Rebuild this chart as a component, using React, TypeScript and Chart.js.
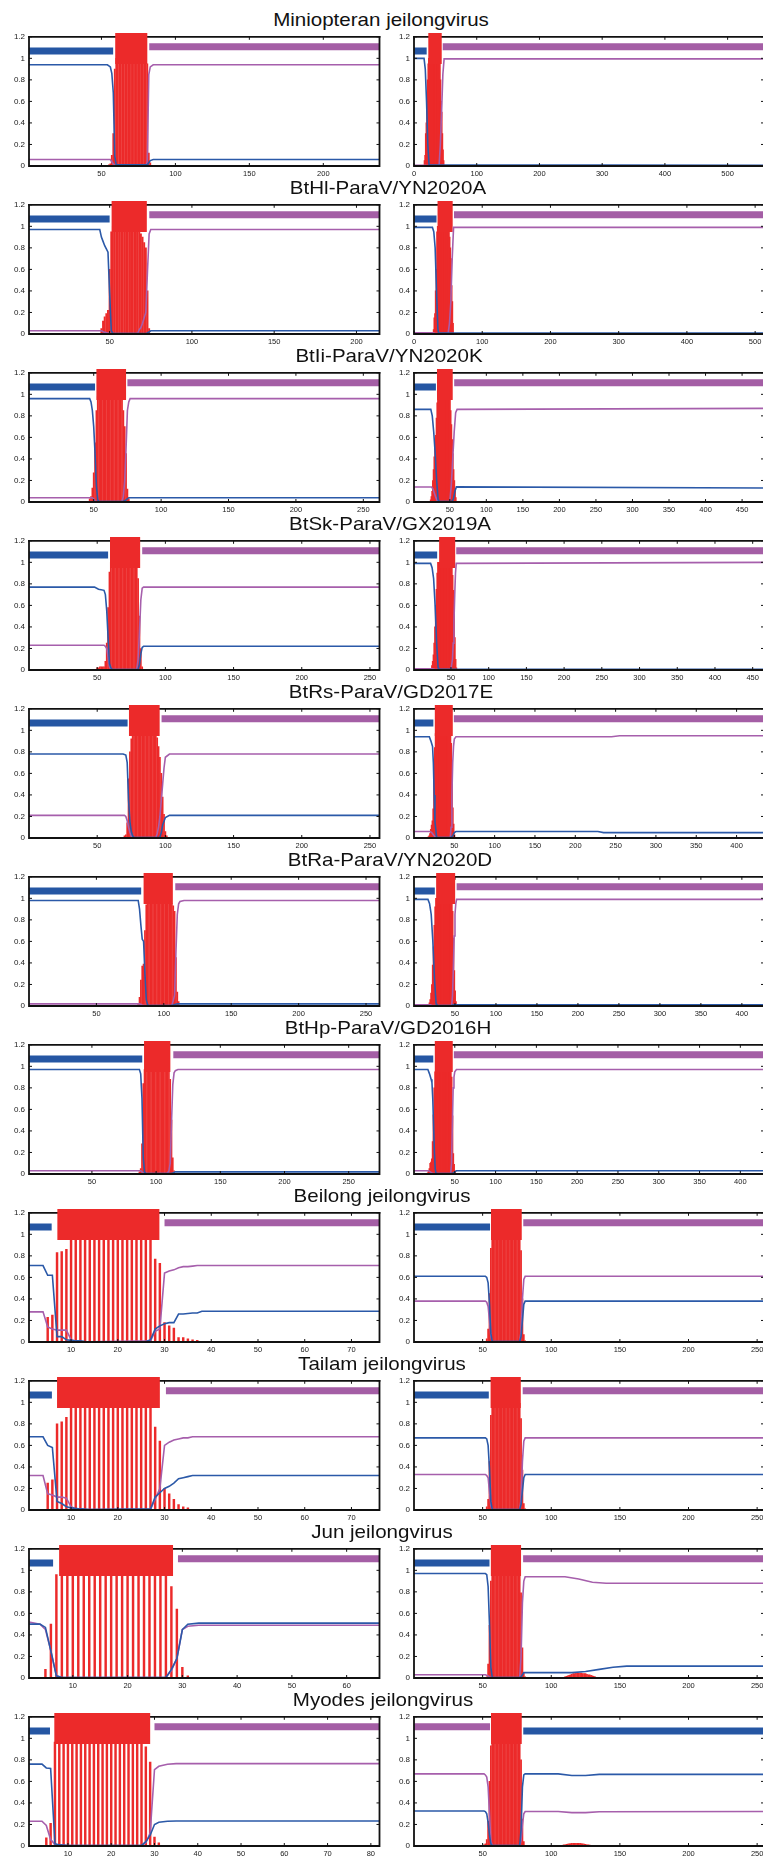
import React, { useEffect, useRef } from "react";
import { Chart, registerables } from "chart.js";

Chart.register(...registerables);

// ---------------- shared values ----------------
const yTicks = [0, 0.2, 0.4, 0.6, 0.8, 1, 1.2];
const blueTrackY = 1.068;
const purpleTrackY = 1.108;
const redTrackY = 1.0915;

const titles = [
  "Miniopteran jeilongvirus",
  "BtHl-ParaV/YN2020A",
  "BtIi-ParaV/YN2020K",
  "BtSk-ParaV/GX2019A",
  "BtRs-ParaV/GD2017E",
  "BtRa-ParaV/YN2020D",
  "BtHp-ParaV/GD2016H",
  "Beilong jeilongvirus",
  "Tailam jeilongvirus",
  "Jun jeilongvirus",
  "Myodes jeilongvirus",
];
const titleCX = [381, 388, 389, 389.5, 391, 389.5, 388, 381.7, 382, 382, 382.5];

// tracks = [blueStart, blueEnd, redStart, redEnd, purpleStart, purpleEnd]

// ---------- Row 0: Miniopteran jeilongvirus ----------
const r0L_range = [1, 238];
const r0L_ticks = [50, 100, 150, 200];
const r0L_blueX = [1, 54, 56, 57, 58, 59, 60, 81, 82, 83, 85, 238];
const r0L_blueY = [0.94, 0.94, 0.92, 0.86, 0.68, 0.09, 0.01, 0.01, 0.03, 0.05, 0.06, 0.06];
const r0L_purpleX = [1, 56, 57, 58, 59, 80, 81, 82, 83, 85, 238];
const r0L_purpleY = [0.06, 0.06, 0.04, 0.02, 0.005, 0.005, 0.04, 0.85, 0.92, 0.94, 0.94];
const r0L_redX = [55, 56, 57, 58, 59, 60, 61, 62, 63, 64, 65, 66, 67, 68, 69, 70, 71, 72, 73, 74, 75, 76, 77, 78, 79, 80, 81, 82, 83];
const r0L_redY = [0.01, 0.02, 0.1, 0.3, 0.9, 1, 1, 1, 1, 1, 1, 1, 1, 1, 1, 1, 1, 1, 1, 1, 1, 1, 1, 1, 1, 1, 0.95, 0.12, 0.03];
const r0L_tracks = [1, 57.9, 59.3, 81, 82.3, 238];

const r0R_range = [0, 558];
const r0R_ticks = [0, 100, 200, 300, 400, 500];
const r0R_blueX = [0, 16, 18, 20, 22, 24, 558];
const r0R_blueY = [1, 1, 0.9, 0.6, 0.2, 0.01, 0.006];
const r0R_purpleX = [0, 18, 20, 40, 42, 44, 46, 48, 558];
const r0R_purpleY = [0.006, 0.006, 0.005, 0.005, 0.2, 0.5, 0.85, 0.995, 0.995];
const r0R_redX = [17, 18, 19, 20, 21, 22, 23, 24, 25, 26, 27, 28, 29, 30, 31, 32, 33, 34, 35, 36, 37, 38, 39, 40, 41, 42, 43, 44, 45, 46, 47];
const r0R_redY = [0.05, 0.1, 0.3, 0.4, 0.6, 0.8, 0.95, 1, 1, 1, 1, 1, 1, 1, 1, 1, 1, 1, 1, 1, 1, 1, 1, 1, 1, 0.8, 0.6, 0.5, 0.3, 0.15, 0.05];
const r0R_tracks = [0, 20.2, 22.8, 44.2, 45.8, 558];

// ---------- Row 1: BtHl-ParaV/YN2020A ----------
const r1L_range = [1, 214];
const r1L_ticks = [50, 100, 150, 200];
const r1L_blueX = [1, 44, 45, 46, 47, 48, 49, 50, 51, 52, 72, 73, 74, 75, 214];
const r1L_blueY = [0.97, 0.97, 0.9, 0.86, 0.82, 0.79, 0.76, 0.38, 0.03, 0.005, 0.005, 0.01, 0.02, 0.03, 0.03];
const r1L_purpleX = [1, 45, 47, 49, 50, 67, 68, 69, 70, 71, 72, 73, 74, 75, 214];
const r1L_purpleY = [0.03, 0.03, 0.015, 0.01, 0.005, 0.005, 0.04, 0.06, 0.1, 0.15, 0.2, 0.58, 0.93, 0.97, 0.97];
const r1L_redX = [45, 46, 47, 48, 49, 50, 51, 52, 53, 54, 55, 56, 57, 58, 59, 60, 61, 62, 63, 64, 65, 66, 67, 68, 69, 70, 71, 72, 73, 74];
const r1L_redY = [0.05, 0.12, 0.16, 0.19, 0.22, 0.6, 0.95, 1, 1, 1, 1, 1, 1, 1, 1, 1, 1, 1, 1, 1, 1, 1, 1, 0.95, 0.93, 0.9, 0.85, 0.8, 0.4, 0.05];
const r1L_tracks = [1, 50, 51.2, 72.6, 74.1, 214];

const r1R_range = [0, 513];
const r1R_ticks = [0, 100, 200, 300, 400, 500];
const r1R_blueX = [0, 27, 29, 31, 33, 35, 36, 513];
const r1R_blueY = [0.99, 0.99, 0.95, 0.8, 0.4, 0.05, 0.008, 0.008];
const r1R_purpleX = [0, 28, 31, 50, 52, 54, 56, 58, 513];
const r1R_purpleY = [0.012, 0.012, 0.005, 0.005, 0.1, 0.3, 0.7, 0.99, 0.99];
const r1R_redX = [28, 29, 30, 31, 32, 33, 34, 35, 36, 37, 38, 39, 40, 41, 42, 43, 44, 45, 46, 47, 48, 49, 50, 51, 52, 53, 54, 55, 56, 57];
const r1R_redY = [0.01, 0.04, 0.15, 0.19, 0.4, 0.6, 0.95, 1, 1, 1, 1, 1, 1, 1, 1, 1, 1, 1, 1, 1, 1, 1, 1, 0.97, 0.9, 0.8, 0.7, 0.45, 0.3, 0.1];
const r1R_tracks = [0, 33, 34.5, 56.7, 58.6, 513];

// ---------- Row 2: BtIi-ParaV/YN2020K ----------
const r2L_range = [2, 262];
const r2L_ticks = [50, 100, 150, 200, 250];
const r2L_blueX = [2, 47, 48, 49, 50, 51, 52, 53, 54, 72, 74, 76, 262];
const r2L_blueY = [0.96, 0.96, 0.93, 0.85, 0.7, 0.45, 0.15, 0.02, 0.005, 0.005, 0.02, 0.04, 0.04];
const r2L_purpleX = [2, 49, 50, 51, 52, 71, 72, 73, 74, 75, 76, 77, 262];
const r2L_purpleY = [0.04, 0.04, 0.03, 0.01, 0.005, 0.005, 0.05, 0.2, 0.5, 0.85, 0.93, 0.96, 0.96];
const r2L_redX = [47, 48, 49, 50, 51, 52, 53, 54, 55, 56, 57, 58, 59, 60, 61, 62, 63, 64, 65, 66, 67, 68, 69, 70, 71, 72, 73, 74, 75, 76];
const r2L_redY = [0.03, 0.05, 0.13, 0.27, 0.55, 0.85, 0.98, 1, 1, 1, 1, 1, 1, 1, 1, 1, 1, 1, 1, 1, 1, 1, 1, 1, 0.95, 0.85, 0.7, 0.45, 0.12, 0.03];
const r2L_tracks = [2, 51, 52, 74, 75, 262];

const r2R_range = [1, 480];
const r2R_ticks = [50, 100, 150, 200, 250, 300, 350, 400, 450];
const r2R_blueX = [1, 24, 26, 28, 30, 32, 34, 35, 53, 55, 57, 59, 480];
const r2R_blueY = [0.86, 0.86, 0.8, 0.65, 0.45, 0.2, 0.02, 0.005, 0.005, 0.03, 0.1, 0.14, 0.13];
const r2R_purpleX = [1, 25, 27, 29, 31, 33, 34, 50, 52, 54, 56, 58, 60, 480];
const r2R_purpleY = [0.14, 0.14, 0.12, 0.08, 0.04, 0.01, 0.005, 0.005, 0.15, 0.4, 0.65, 0.83, 0.86, 0.87];
const r2R_redX = [24, 25, 26, 27, 28, 29, 30, 31, 32, 33, 34, 35, 36, 37, 38, 39, 40, 41, 42, 43, 44, 45, 46, 47, 48, 49, 50, 51, 52, 53, 54, 55, 56, 57, 58];
const r2R_redY = [0.02, 0.05, 0.1, 0.2, 0.3, 0.42, 0.5, 0.62, 0.78, 0.92, 1, 1, 1, 1, 1, 1, 1, 1, 1, 1, 1, 1, 1, 1, 1, 1, 0.95, 0.85, 0.72, 0.58, 0.45, 0.3, 0.2, 0.1, 0.04];
const r2R_tracks = [1, 31, 32.5, 54, 56, 480];

// ---------- Row 3: BtSk-ParaV/GX2019A ----------
const r3L_range = [0, 257];
const r3L_ticks = [50, 100, 150, 200, 250];
const r3L_blueX = [0, 48, 51, 55, 56, 57, 58, 59, 60, 61, 80, 81, 82, 83, 84, 257];
const r3L_blueY = [0.77, 0.77, 0.75, 0.74, 0.7, 0.55, 0.3, 0.06, 0.02, 0.005, 0.005, 0.05, 0.15, 0.21, 0.22, 0.22];
const r3L_purpleX = [0, 55, 56, 57, 58, 59, 60, 79, 80, 81, 82, 83, 84, 257];
const r3L_purpleY = [0.23, 0.23, 0.22, 0.2, 0.12, 0.03, 0.005, 0.005, 0.1, 0.35, 0.65, 0.76, 0.77, 0.77];
const r3L_redX = [50, 51, 52, 53, 54, 55, 56, 57, 58, 59, 60, 61, 62, 63, 64, 65, 66, 67, 68, 69, 70, 71, 72, 73, 74, 75, 76, 77, 78, 79, 80, 81, 82, 83];
const r3L_redY = [0.02, 0.02, 0.03, 0.03, 0.03, 0.03, 0.08, 0.25, 0.58, 0.91, 1, 1, 1, 1, 1, 1, 1, 1, 1, 1, 1, 1, 1, 1, 1, 1, 1, 1, 1, 0.99, 0.85, 0.5, 0.2, 0.03];
const r3L_tracks = [0, 58, 59.4, 81.5, 83, 257];

const r3R_range = [1, 465];
const r3R_ticks = [50, 100, 150, 200, 250, 300, 350, 400, 450];
const r3R_blueX = [1, 23, 25, 27, 29, 31, 33, 34, 465];
const r3R_blueY = [0.99, 0.99, 0.95, 0.85, 0.6, 0.25, 0.02, 0.006, 0.006];
const r3R_purpleX = [1, 26, 29, 50, 52, 53, 54, 55, 56, 57, 465];
const r3R_purpleY = [0.012, 0.012, 0.005, 0.005, 0.1, 0.25, 0.45, 0.7, 0.9, 0.99, 1];
const r3R_redX = [25, 26, 27, 28, 29, 30, 31, 32, 33, 34, 35, 36, 37, 38, 39, 40, 41, 42, 43, 44, 45, 46, 47, 48, 49, 50, 51, 52, 53, 54, 55, 56, 57];
const r3R_redY = [0.04, 0.08, 0.14, 0.25, 0.4, 0.6, 0.75, 0.9, 1, 1, 1, 1, 1, 1, 1, 1, 1, 1, 1, 1, 1, 1, 1, 1, 1, 1, 0.95, 0.88, 0.74, 0.54, 0.3, 0.1, 0.02];
const r3R_tracks = [1, 31.7, 34.3, 55.6, 57, 465];

// ---------- Row 4: BtRs-ParaV/GD2017E ----------
const r4L_range = [0, 257];
const r4L_ticks = [50, 100, 150, 200, 250];
const r4L_blueX = [0, 69, 71, 72, 73, 74, 75, 76, 77, 78, 95, 96, 97, 98, 100, 103, 257];
const r4L_blueY = [0.78, 0.78, 0.77, 0.7, 0.35, 0.15, 0.06, 0.02, 0.005, 0.005, 0.005, 0.01, 0.05, 0.12, 0.19, 0.21, 0.21];
const r4L_purpleX = [0, 70, 71, 72, 73, 74, 75, 76, 93, 94, 95, 96, 97, 98, 99, 100, 103, 257];
const r4L_purpleY = [0.21, 0.21, 0.2, 0.16, 0.1, 0.05, 0.02, 0.005, 0.005, 0.04, 0.1, 0.2, 0.35, 0.5, 0.65, 0.75, 0.78, 0.78];
const r4L_redX = [70, 71, 72, 73, 74, 75, 76, 77, 78, 79, 80, 81, 82, 83, 84, 85, 86, 87, 88, 89, 90, 91, 92, 93, 94, 95, 96, 97, 98, 99, 100, 101];
const r4L_redY = [0.02, 0.03, 0.14, 0.55, 0.8, 0.92, 1, 1, 1, 1, 1, 1, 1, 1, 1, 1, 1, 1, 1, 1, 1, 1, 1, 0.98, 0.93, 0.85, 0.75, 0.6, 0.38, 0.22, 0.06, 0.02];
const r4L_tracks = [0, 72.3, 73.3, 95.8, 97.2, 257];

const r4R_range = [0, 434];
const r4R_ticks = [50, 100, 150, 200, 250, 300, 350, 400];
const r4R_blueX = [0, 19, 21, 23, 24, 25, 26, 28, 29, 46, 48, 50, 52, 228, 235, 434];
const r4R_blueY = [0.94, 0.94, 0.9, 0.85, 0.7, 0.4, 0.15, 0.01, 0.005, 0.005, 0.02, 0.05, 0.06, 0.06, 0.05, 0.05];
const r4R_purpleX = [0, 20, 22, 24, 26, 28, 45, 46, 47, 48, 49, 50, 52, 245, 255, 434];
const r4R_purpleY = [0.06, 0.06, 0.05, 0.03, 0.01, 0.005, 0.005, 0.1, 0.4, 0.7, 0.85, 0.92, 0.94, 0.94, 0.95, 0.95];
const r4R_redX = [18, 19, 20, 21, 22, 23, 24, 25, 26, 27, 28, 29, 30, 31, 32, 33, 34, 35, 36, 37, 38, 39, 40, 41, 42, 43, 44, 45, 46, 47, 48, 49, 50];
const r4R_redY = [0.01, 0.02, 0.04, 0.08, 0.12, 0.16, 0.27, 0.58, 0.84, 0.97, 1, 1, 1, 1, 1, 1, 1, 1, 1, 1, 1, 1, 1, 1, 1, 1, 1, 0.99, 0.88, 0.58, 0.28, 0.13, 0.03];
const r4R_tracks = [0, 24, 25.8, 48.1, 49.4, 434];

// ---------- Row 5: BtRa-ParaV/YN2020D ----------
const r5L_range = [0, 260];
const r5L_ticks = [50, 100, 150, 200, 250];
const r5L_blueX = [0, 81, 82, 83, 84, 85, 86, 87, 88, 89, 105, 107, 110, 260];
const r5L_blueY = [0.98, 0.98, 0.9, 0.75, 0.62, 0.6, 0.3, 0.06, 0.01, 0.005, 0.005, 0.01, 0.02, 0.02];
const r5L_purpleX = [0, 82, 84, 86, 106, 107, 108, 109, 110, 111, 112, 115, 260];
const r5L_purpleY = [0.02, 0.02, 0.01, 0.005, 0.005, 0.05, 0.1, 0.5, 0.85, 0.95, 0.97, 0.98, 0.98];
const r5L_redX = [81, 82, 83, 84, 85, 86, 87, 88, 89, 90, 91, 92, 93, 94, 95, 96, 97, 98, 99, 100, 101, 102, 103, 104, 105, 106, 107, 108, 109, 110, 111];
const r5L_redY = [0.02, 0.08, 0.24, 0.37, 0.39, 0.7, 0.94, 1, 1, 1, 1, 1, 1, 1, 1, 1, 1, 1, 1, 1, 1, 1, 1, 1, 0.97, 0.95, 0.93, 0.88, 0.45, 0.13, 0.04];
const r5L_tracks = [0, 83.2, 85, 106.7, 108.5, 260];

const r5R_range = [0, 427];
const r5R_ticks = [50, 100, 150, 200, 250, 300, 350, 400];
const r5R_blueX = [0, 17, 19, 21, 23, 25, 27, 28, 46, 48, 427];
const r5R_blueY = [0.99, 0.99, 0.95, 0.85, 0.6, 0.25, 0.02, 0.005, 0.005, 0.01, 0.01];
const r5R_purpleX = [0, 20, 22, 46, 47, 48, 49, 50, 51, 52, 427];
const r5R_purpleY = [0.012, 0.012, 0.005, 0.005, 0.1, 0.35, 0.65, 0.85, 0.95, 0.99, 0.99];
const r5R_redX = [18, 19, 20, 21, 22, 23, 24, 25, 26, 27, 28, 29, 30, 31, 32, 33, 34, 35, 36, 37, 38, 39, 40, 41, 42, 43, 44, 45, 46, 47, 48, 49, 50, 51];
const r5R_redY = [0.01, 0.03, 0.06, 0.12, 0.2, 0.38, 0.55, 0.75, 0.92, 1, 1, 1, 1, 1, 1, 1, 1, 1, 1, 1, 1, 1, 1, 1, 1, 1, 1, 1, 0.98, 0.88, 0.63, 0.33, 0.14, 0.04];
const r5R_tracks = [0, 25.4, 27, 50.2, 52, 427];

// ---------- Row 6: BtHp-ParaV/GD2016H ----------
const r6L_range = [1, 274];
const r6L_ticks = [50, 100, 150, 200, 250];
const r6L_blueX = [1, 87, 88, 89, 90, 91, 92, 111, 113, 115, 274];
const r6L_blueY = [0.97, 0.97, 0.93, 0.7, 0.15, 0.02, 0.005, 0.005, 0.01, 0.02, 0.02];
const r6L_purpleX = [1, 88, 89, 90, 91, 108, 109, 110, 111, 112, 113, 114, 115, 117, 274];
const r6L_purpleY = [0.03, 0.03, 0.02, 0.01, 0.005, 0.005, 0.01, 0.03, 0.1, 0.48, 0.83, 0.94, 0.96, 0.97, 0.97];
const r6L_redX = [87, 88, 89, 90, 91, 92, 93, 94, 95, 96, 97, 98, 99, 100, 101, 102, 103, 104, 105, 106, 107, 108, 109, 110, 111, 112, 113, 114];
const r6L_redY = [0.02, 0.05, 0.28, 0.84, 0.97, 1, 1, 1, 1, 1, 1, 1, 1, 1, 1, 1, 1, 1, 1, 1, 1, 1, 0.98, 0.96, 0.88, 0.5, 0.15, 0.03];
const r6L_tracks = [1, 89.2, 90.6, 111.1, 113.4, 274];

const r6R_range = [0, 429];
const r6R_ticks = [50, 100, 150, 200, 250, 300, 350, 400];
const r6R_blueX = [0, 17, 19, 21, 22, 23, 24, 25, 26, 27, 46, 48, 50, 52, 429];
const r6R_blueY = [0.97, 0.97, 0.93, 0.88, 0.85, 0.7, 0.45, 0.2, 0.05, 0.005, 0.005, 0.01, 0.02, 0.03, 0.03];
const r6R_purpleX = [0, 18, 20, 22, 24, 45, 46, 47, 48, 49, 50, 52, 429];
const r6R_purpleY = [0.03, 0.03, 0.02, 0.01, 0.005, 0.005, 0.1, 0.45, 0.8, 0.9, 0.95, 0.97, 0.97];
const r6R_redX = [17, 18, 19, 20, 21, 22, 23, 24, 25, 26, 27, 28, 29, 30, 31, 32, 33, 34, 35, 36, 37, 38, 39, 40, 41, 42, 43, 44, 45, 46, 47, 48, 49, 50];
const r6R_redY = [0.01, 0.03, 0.05, 0.1, 0.11, 0.14, 0.3, 0.55, 0.8, 0.95, 1, 1, 1, 1, 1, 1, 1, 1, 1, 1, 1, 1, 1, 1, 1, 1, 1, 1, 0.99, 0.9, 0.54, 0.19, 0.09, 0.03];
const r6R_tracks = [0, 23.6, 25.5, 47.5, 48.8, 429];

// ---------- Row 7: Beilong jeilongvirus ----------
const r7L_range = [1, 76];
const r7L_ticks = [10, 20, 30, 40, 50, 60, 70];
const r7L_blueX = [1, 4, 5, 6, 7, 8, 9, 10, 11, 12, 13, 14, 26, 27, 28, 29, 30, 31, 32, 33, 34, 35, 36, 37, 38, 76];
const r7L_blueY = [0.71, 0.71, 0.62, 0.62, 0.05, 0.05, 0.02, 0.015, 0.01, 0.01, 0.005, 0.003, 0.003, 0.02, 0.12, 0.15, 0.17, 0.18, 0.18, 0.26, 0.26, 0.265, 0.27, 0.27, 0.285, 0.285];
const r7L_purpleX = [1, 4, 5, 6, 7, 8, 9, 10, 11, 12, 14, 27, 28, 29, 30, 31, 32, 33, 34, 35, 36, 37, 38, 76];
const r7L_purpleY = [0.28, 0.28, 0.14, 0.12, 0.11, 0.11, 0.11, 0.02, 0.01, 0.005, 0.003, 0.01, 0.1, 0.12, 0.64, 0.66, 0.67, 0.69, 0.7, 0.7, 0.705, 0.71, 0.71, 0.71];
const r7L_redX = [5, 6, 7, 8, 9, 10, 11, 12, 13, 14, 15, 16, 17, 18, 19, 20, 21, 22, 23, 24, 25, 26, 27, 28, 29, 30, 31, 32, 33, 34, 35, 36, 37];
const r7L_redY = [0.23, 0.25, 0.83, 0.84, 0.86, 0.98, 0.98, 0.98, 0.98, 0.98, 0.98, 0.98, 0.98, 0.98, 0.98, 0.98, 0.98, 0.98, 0.98, 0.98, 0.98, 0.98, 0.98, 0.77, 0.73, 0.18, 0.15, 0.13, 0.04, 0.04, 0.03, 0.02, 0.015];
const r7L_tracks = [1, 5.85, 7.07, 28.9, 30, 76];

const r7R_range = [0, 255];
const r7R_ticks = [50, 100, 150, 200, 250];
const r7R_blueX = [0, 52, 53, 54, 55, 56, 57, 77, 78, 79, 80, 81, 255];
const r7R_blueY = [0.61, 0.61, 0.6, 0.55, 0.35, 0.08, 0.005, 0.005, 0.05, 0.2, 0.35, 0.38, 0.38];
const r7R_purpleX = [0, 52, 53, 54, 55, 56, 57, 77, 78, 79, 80, 81, 255];
const r7R_purpleY = [0.38, 0.38, 0.37, 0.33, 0.2, 0.05, 0.005, 0.005, 0.1, 0.4, 0.58, 0.61, 0.61];
const r7R_redX = [53, 54, 55, 56, 57, 58, 59, 60, 61, 62, 63, 64, 65, 66, 67, 68, 69, 70, 71, 72, 73, 74, 75, 76, 77, 78, 79, 80, 81];
const r7R_redY = [0.03, 0.12, 0.45, 0.87, 1, 1, 1, 1, 1, 1, 1, 1, 1, 1, 1, 1, 1, 1, 1, 1, 1, 1, 1, 1, 0.99, 0.85, 0.4, 0.07, 0.01];
const r7R_tracks = [0, 55.4, 56.1, 78.5, 79.6, 255];

// ---------- Row 8: Tailam jeilongvirus ----------
const r8L_range = [1, 76];
const r8L_ticks = [10, 20, 30, 40, 50, 60, 70];
const r8L_blueX = [1, 4, 5, 6, 7, 8, 9, 10, 12, 14, 27, 28, 29, 30, 31, 32, 33, 34, 35, 36, 76];
const r8L_blueY = [0.68, 0.68, 0.6, 0.58, 0.08, 0.06, 0.03, 0.02, 0.01, 0.005, 0.01, 0.12, 0.16, 0.2, 0.22, 0.25, 0.29, 0.3, 0.31, 0.32, 0.32];
const r8L_purpleX = [1, 4, 5, 6, 7, 8, 9, 10, 11, 13, 27, 28, 29, 30, 31, 32, 33, 34, 35, 36, 76];
const r8L_purpleY = [0.32, 0.32, 0.15, 0.14, 0.12, 0.12, 0.11, 0.03, 0.01, 0.005, 0.005, 0.1, 0.2, 0.6, 0.63, 0.65, 0.66, 0.67, 0.67, 0.68, 0.68];
const r8L_redX = [5, 6, 7, 8, 9, 10, 11, 12, 13, 14, 15, 16, 17, 18, 19, 20, 21, 22, 23, 24, 25, 26, 27, 28, 29, 30, 31, 32, 33, 34, 35];
const r8L_redY = [0.25, 0.28, 0.8, 0.82, 0.86, 0.98, 0.98, 0.98, 0.98, 0.98, 0.98, 0.98, 0.98, 0.98, 0.98, 0.98, 0.98, 0.98, 0.98, 0.98, 0.98, 0.98, 0.98, 0.77, 0.64, 0.2, 0.15, 0.1, 0.05, 0.03, 0.02];
const r8L_tracks = [1, 5.9, 7, 29, 30.3, 76];

const r8R_range = [0, 255];
const r8R_ticks = [50, 100, 150, 200, 250];
const r8R_blueX = [0, 52, 53, 54, 55, 56, 57, 77, 78, 79, 80, 81, 255];
const r8R_blueY = [0.67, 0.67, 0.66, 0.6, 0.38, 0.08, 0.005, 0.005, 0.05, 0.18, 0.3, 0.33, 0.33];
const r8R_purpleX = [0, 52, 53, 54, 55, 56, 57, 77, 78, 79, 80, 81, 255];
const r8R_purpleY = [0.33, 0.33, 0.32, 0.3, 0.17, 0.04, 0.005, 0.005, 0.1, 0.45, 0.64, 0.67, 0.67];
const r8R_redX = [53, 54, 55, 56, 57, 58, 59, 60, 61, 62, 63, 64, 65, 66, 67, 68, 69, 70, 71, 72, 73, 74, 75, 76, 77, 78, 79, 80, 81];
const r8R_redY = [0.03, 0.1, 0.45, 0.88, 1, 1, 1, 1, 1, 1, 1, 1, 1, 1, 1, 1, 1, 1, 1, 1, 1, 1, 1, 1, 0.99, 0.85, 0.37, 0.06, 0.01];
const r8R_tracks = [0, 54.5, 55.8, 77.8, 79.2, 255];

// ---------- Row 9: Jun jeilongvirus ----------
const r9L_range = [2, 66];
const r9L_ticks = [10, 20, 30, 40, 50, 60];
const r9L_blueX = [2, 4, 5, 6, 7, 8, 27, 28, 29, 30, 31, 33, 66];
const r9L_blueY = [0.5, 0.5, 0.47, 0.25, 0.02, 0.005, 0.005, 0.08, 0.18, 0.45, 0.5, 0.51, 0.51];
const r9L_purpleX = [2, 4, 5, 6, 7, 8, 27, 28, 29, 30, 31, 33, 66];
const r9L_purpleY = [0.52, 0.5, 0.45, 0.25, 0.02, 0.005, 0.005, 0.07, 0.18, 0.45, 0.48, 0.49, 0.49];
const r9L_redX = [5, 6, 7, 8, 9, 10, 11, 12, 13, 14, 15, 16, 17, 18, 19, 20, 21, 22, 23, 24, 25, 26, 27, 28, 29, 30, 31];
const r9L_redY = [0.08, 0.5, 0.96, 0.98, 0.98, 0.98, 0.98, 0.98, 0.98, 0.98, 0.98, 0.98, 0.98, 0.98, 0.98, 0.98, 0.98, 0.98, 0.98, 0.98, 0.98, 0.98, 0.97, 0.85, 0.64, 0.1, 0.02];
const r9L_tracks = [2, 6.4, 7.5, 28.3, 29.2, 66];

const r9R_range = [0, 255];
const r9R_ticks = [50, 100, 150, 200, 250];
const r9R_blueX = [0, 52, 53, 54, 55, 56, 57, 77, 78, 79, 80, 81, 115, 125, 135, 145, 155, 255];
const r9R_blueY = [0.97, 0.97, 0.96, 0.85, 0.5, 0.1, 0.005, 0.005, 0.01, 0.03, 0.05, 0.05, 0.05, 0.06, 0.08, 0.1, 0.11, 0.11];
const r9R_purpleX = [0, 52, 54, 55, 56, 57, 77, 78, 79, 80, 81, 110, 120, 130, 140, 255];
const r9R_purpleY = [0.03, 0.03, 0.02, 0.01, 0.005, 0.005, 0.005, 0.2, 0.7, 0.9, 0.94, 0.94, 0.92, 0.89, 0.88, 0.88];
const r9R_redX = [53, 54, 55, 56, 57, 58, 59, 60, 61, 62, 63, 64, 65, 66, 67, 68, 69, 70, 71, 72, 73, 74, 75, 76, 77, 78, 79, 80, 81,
  110, 111, 112, 113, 114, 115, 116, 117, 118, 119, 120, 121, 122, 123, 124, 125, 126, 127, 128, 129, 130, 131, 132];
const r9R_redY = [0.01, 0.13, 0.49, 0.9, 1, 1, 1, 1, 1, 1, 1, 1, 1, 1, 1, 1, 1, 1, 1, 1, 1, 1, 1, 1, 0.99, 0.79, 0.28, 0.05, 0.01,
  0.01, 0.015, 0.02, 0.025, 0.03, 0.035, 0.04, 0.04, 0.045, 0.045, 0.045, 0.045, 0.045, 0.04, 0.04, 0.04, 0.035, 0.03, 0.03, 0.025, 0.02, 0.015, 0.01];
const r9R_tracks = [0, 55, 56, 78, 79.5, 255];

// ---------- Row 10: Myodes jeilongvirus ----------
const r10L_range = [1, 82];
const r10L_ticks = [10, 20, 30, 40, 50, 60, 70, 80];
const r10L_blueX = [1, 4, 5, 6, 7, 8, 10, 27, 28, 29, 30, 31, 33, 35, 82];
const r10L_blueY = [0.76, 0.76, 0.725, 0.72, 0.02, 0.01, 0.005, 0.005, 0.04, 0.1, 0.2, 0.22, 0.23, 0.232, 0.232];
const r10L_purpleX = [1, 4, 5, 6, 7, 8, 10, 27, 28, 29, 30, 31, 33, 35, 82];
const r10L_purpleY = [0.23, 0.23, 0.19, 0.06, 0.015, 0.01, 0.005, 0.005, 0.03, 0.12, 0.71, 0.74, 0.76, 0.765, 0.765];
const r10L_redX = [5, 6, 7, 8, 9, 10, 11, 12, 13, 14, 15, 16, 17, 18, 19, 20, 21, 22, 23, 24, 25, 26, 27, 28, 29, 30, 31];
const r10L_redY = [0.077, 0.21, 0.965, 0.98, 0.98, 0.98, 0.98, 0.98, 0.98, 0.98, 0.98, 0.98, 0.98, 0.98, 0.98, 0.98, 0.98, 0.98, 0.98, 0.98, 0.98, 0.98, 0.98, 0.92, 0.78, 0.083, 0.03];
const r10L_tracks = [1, 5.85, 6.85, 29, 30, 82];

const r10R_range = [0, 255];
const r10R_ticks = [50, 100, 150, 200, 250];
const r10R_blueX = [0, 51, 52, 53, 54, 55, 56, 57, 77, 78, 79, 80, 81, 105, 115, 125, 135, 255];
const r10R_blueY = [0.325, 0.325, 0.32, 0.3, 0.22, 0.1, 0.02, 0.005, 0.005, 0.15, 0.55, 0.66, 0.67, 0.67, 0.655, 0.655, 0.665, 0.665];
const r10R_purpleX = [0, 51, 52, 53, 54, 55, 56, 57, 77, 78, 79, 80, 81, 105, 115, 125, 135, 255];
const r10R_purpleY = [0.67, 0.67, 0.66, 0.64, 0.55, 0.3, 0.05, 0.005, 0.005, 0.05, 0.2, 0.3, 0.32, 0.32, 0.31, 0.31, 0.318, 0.32];
const r10R_redX = [51, 52, 53, 54, 55, 56, 57, 58, 59, 60, 61, 62, 63, 64, 65, 66, 67, 68, 69, 70, 71, 72, 73, 74, 75, 76, 77, 78, 79, 80,
  109, 110, 111, 112, 113, 114, 115, 116, 117, 118, 119, 120, 121, 122, 123, 124, 125, 126, 127, 128];
const r10R_redY = [0.01, 0.02, 0.06, 0.23, 0.6, 0.93, 1, 1, 1, 1, 1, 1, 1, 1, 1, 1, 1, 1, 1, 1, 1, 1, 1, 1, 1, 1, 0.99, 0.8, 0.25, 0.04,
  0.01, 0.012, 0.015, 0.018, 0.02, 0.022, 0.024, 0.025, 0.025, 0.025, 0.025, 0.025, 0.024, 0.022, 0.02, 0.018, 0.015, 0.012, 0.01, 0.008];
const r10R_tracks = [79.6, 255, 56.1, 78.5, 0, 55.4];

// ---------------- assemble panels ----------------
function panel(range, ticks, bx, by, px, py, rx, ry, tracks) {
  return { range, ticks, bx, by, px, py, rx, ry, tracks };
}

const rows = [
  [panel(r0L_range, r0L_ticks, r0L_blueX, r0L_blueY, r0L_purpleX, r0L_purpleY, r0L_redX, r0L_redY, r0L_tracks),
   panel(r0R_range, r0R_ticks, r0R_blueX, r0R_blueY, r0R_purpleX, r0R_purpleY, r0R_redX, r0R_redY, r0R_tracks)],
  [panel(r1L_range, r1L_ticks, r1L_blueX, r1L_blueY, r1L_purpleX, r1L_purpleY, r1L_redX, r1L_redY, r1L_tracks),
   panel(r1R_range, r1R_ticks, r1R_blueX, r1R_blueY, r1R_purpleX, r1R_purpleY, r1R_redX, r1R_redY, r1R_tracks)],
  [panel(r2L_range, r2L_ticks, r2L_blueX, r2L_blueY, r2L_purpleX, r2L_purpleY, r2L_redX, r2L_redY, r2L_tracks),
   panel(r2R_range, r2R_ticks, r2R_blueX, r2R_blueY, r2R_purpleX, r2R_purpleY, r2R_redX, r2R_redY, r2R_tracks)],
  [panel(r3L_range, r3L_ticks, r3L_blueX, r3L_blueY, r3L_purpleX, r3L_purpleY, r3L_redX, r3L_redY, r3L_tracks),
   panel(r3R_range, r3R_ticks, r3R_blueX, r3R_blueY, r3R_purpleX, r3R_purpleY, r3R_redX, r3R_redY, r3R_tracks)],
  [panel(r4L_range, r4L_ticks, r4L_blueX, r4L_blueY, r4L_purpleX, r4L_purpleY, r4L_redX, r4L_redY, r4L_tracks),
   panel(r4R_range, r4R_ticks, r4R_blueX, r4R_blueY, r4R_purpleX, r4R_purpleY, r4R_redX, r4R_redY, r4R_tracks)],
  [panel(r5L_range, r5L_ticks, r5L_blueX, r5L_blueY, r5L_purpleX, r5L_purpleY, r5L_redX, r5L_redY, r5L_tracks),
   panel(r5R_range, r5R_ticks, r5R_blueX, r5R_blueY, r5R_purpleX, r5R_purpleY, r5R_redX, r5R_redY, r5R_tracks)],
  [panel(r6L_range, r6L_ticks, r6L_blueX, r6L_blueY, r6L_purpleX, r6L_purpleY, r6L_redX, r6L_redY, r6L_tracks),
   panel(r6R_range, r6R_ticks, r6R_blueX, r6R_blueY, r6R_purpleX, r6R_purpleY, r6R_redX, r6R_redY, r6R_tracks)],
  [panel(r7L_range, r7L_ticks, r7L_blueX, r7L_blueY, r7L_purpleX, r7L_purpleY, r7L_redX, r7L_redY, r7L_tracks),
   panel(r7R_range, r7R_ticks, r7R_blueX, r7R_blueY, r7R_purpleX, r7R_purpleY, r7R_redX, r7R_redY, r7R_tracks)],
  [panel(r8L_range, r8L_ticks, r8L_blueX, r8L_blueY, r8L_purpleX, r8L_purpleY, r8L_redX, r8L_redY, r8L_tracks),
   panel(r8R_range, r8R_ticks, r8R_blueX, r8R_blueY, r8R_purpleX, r8R_purpleY, r8R_redX, r8R_redY, r8R_tracks)],
  [panel(r9L_range, r9L_ticks, r9L_blueX, r9L_blueY, r9L_purpleX, r9L_purpleY, r9L_redX, r9L_redY, r9L_tracks),
   panel(r9R_range, r9R_ticks, r9R_blueX, r9R_blueY, r9R_purpleX, r9R_purpleY, r9R_redX, r9R_redY, r9R_tracks)],
  [panel(r10L_range, r10L_ticks, r10L_blueX, r10L_blueY, r10L_purpleX, r10L_purpleY, r10L_redX, r10L_redY, r10L_tracks),
   panel(r10R_range, r10R_ticks, r10R_blueX, r10R_blueY, r10R_purpleX, r10R_purpleY, r10R_redX, r10R_redY, r10R_tracks)],
];

// ---------------- style / layout ----------------
const FONT = "'Liberation Sans', Arial, Helvetica, sans-serif";
const BLUE_LINE = "#2b59a8";
const PURPLE_LINE = "#a65fac";
const BLUE_BAR = "#2556a3";
const PURPLE_BAR = "#a45ea5";
const RED = "#ec2a2a";
const TXT = "#1a1a1a";

const FIRST_FRAME_TOP = 36;
const ROW_PITCH = 168;
const PLOT_H = 130;
const PAD_TOP = 8;
const X_AXIS_H = 16;
const Y_AXIS_W = 29;
const CANVAS_H = PAD_TOP + PLOT_H + X_AXIS_H;
const PLOT_W = 350;
const SIDES = [
  { left: 0, width: 392, padRight: 12.5 },
  { left: 385, width: 400, padRight: 21 },
];

Chart.defaults.font.family = FONT;

function pts(xs, ys) {
  const n = Math.min(xs.length, ys.length);
  const out = [];
  for (let i = 0; i < n; i++) out.push({ x: xs[i], y: ys[i] });
  return out;
}

const framePlugin = {
  id: "frameTicks",
  beforeDatasetsDraw(chart) {
    const { ctx, chartArea: a, scales } = chart;
    ctx.save();
    ctx.strokeStyle = "#111";
    ctx.lineWidth = 1.8;
    ctx.beginPath();
    ctx.moveTo(a.left - 0.9, a.top);
    ctx.lineTo(a.right + 0.9, a.top);
    ctx.stroke();
    ctx.lineWidth = 1;
    ctx.beginPath();
    for (const t of scales.x.ticks) {
      const p = scales.x.getPixelForValue(t.value);
      ctx.moveTo(p, a.top);
      ctx.lineTo(p, a.top + 3);
    }
    ctx.stroke();
    ctx.restore();
  },
  afterDatasetsDraw(chart) {
    const { ctx, chartArea: a, scales } = chart;
    ctx.save();
    ctx.strokeStyle = "#111";
    ctx.lineWidth = 1.8;
    ctx.beginPath();
    ctx.moveTo(a.left, a.top - 0.9);
    ctx.lineTo(a.left, a.bottom);
    ctx.lineTo(a.right, a.bottom);
    ctx.lineTo(a.right, a.top - 0.9);
    ctx.stroke();
    ctx.lineWidth = 1;
    ctx.beginPath();
    for (const t of scales.x.ticks) {
      const p = scales.x.getPixelForValue(t.value);
      ctx.moveTo(p, a.bottom);
      ctx.lineTo(p, a.bottom - 3);
    }
    for (const t of scales.y.ticks) {
      const p = scales.y.getPixelForValue(t.value);
      ctx.moveTo(a.left, p);
      ctx.lineTo(a.left + 3, p);
      ctx.moveTo(a.right, p);
      ctx.lineTo(a.right - 3, p);
    }
    ctx.stroke();
    ctx.restore();
  },
};

function makeConfig(p, padRight) {
  const ppu = PLOT_W / (p.range[1] - p.range[0]);
  const barT = ppu < 1 ? 1.3 : ppu < 2.5 ? ppu * 0.78 : 1.8;
  const [b0, b1, r0, r1, q0, q1] = p.tracks;
  return {
    type: "bar",
    data: {
      datasets: [
        { type: "line", data: pts(p.bx, p.by), borderColor: BLUE_LINE, borderWidth: 1.6, pointRadius: 0, tension: 0, fill: false, order: 0 },
        { type: "line", data: pts(p.px, p.py), borderColor: PURPLE_LINE, borderWidth: 1.6, pointRadius: 0, tension: 0, fill: false, order: 1 },
        { type: "line", data: [{ x: r0, y: redTrackY }, { x: r1, y: redTrackY }], borderColor: RED, borderWidth: 31, borderCapStyle: "butt", pointRadius: 0, fill: false, clip: false, order: 2 },
        { type: "line", data: [{ x: b0, y: blueTrackY }, { x: b1, y: blueTrackY }], borderColor: BLUE_BAR, borderWidth: 7, borderCapStyle: "butt", pointRadius: 0, fill: false, order: 3 },
        { type: "line", data: [{ x: q0, y: purpleTrackY }, { x: q1, y: purpleTrackY }], borderColor: PURPLE_BAR, borderWidth: 7, borderCapStyle: "butt", pointRadius: 0, fill: false, order: 3 },
        { type: "bar", data: pts(p.rx, p.ry), backgroundColor: RED, borderWidth: 0, barThickness: barT, grouped: false, order: 5 },
      ],
    },
    options: {
      responsive: false,
      animation: false,
      devicePixelRatio: 1,
      events: [],
      layout: { padding: { top: PAD_TOP, right: padRight, left: 0, bottom: 0 } },
      plugins: { legend: { display: false }, tooltip: { enabled: false }, title: { display: false } },
      scales: {
        x: {
          type: "linear",
          min: p.range[0],
          max: p.range[1],
          offset: false,
          grid: { display: false, drawTicks: false },
          border: { display: false },
          ticks: { padding: 3, maxRotation: 0, minRotation: 0, autoSkip: false, color: TXT, font: { size: 7.5, family: FONT }, callback: (v) => String(v) },
          afterBuildTicks: (ax) => { ax.ticks = p.ticks.map((v) => ({ value: v })); },
          afterFit: (ax) => { ax.height = X_AXIS_H; },
        },
        y: {
          type: "linear",
          min: 0,
          max: 1.2,
          grid: { display: false, drawTicks: false },
          border: { display: false },
          ticks: { padding: 4, color: TXT, font: { size: 8, family: FONT }, callback: (v) => String(v) },
          afterBuildTicks: (ax) => { ax.ticks = yTicks.map((v) => ({ value: v })); },
          afterFit: (ax) => { ax.width = Y_AXIS_W; },
        },
      },
    },
    plugins: [framePlugin],
  };
}

function PanelChart({ p, left, top, width, padRight }) {
  const ref = useRef(null);
  useEffect(() => {
    if (!ref.current) return;
    const chart = new Chart(ref.current, makeConfig(p, padRight));
    return () => chart.destroy();
  }, [p, padRight]);
  return (
    <canvas
      ref={ref}
      width={width}
      height={CANVAS_H}
      style={{ position: "absolute", left, top, width, height: CANVAS_H, display: "block" }}
    />
  );
}

export default function App() {
  return (
    <div style={{ position: "absolute", left: 0, top: 0, width: 763, height: 1857, overflow: "hidden", background: "#fff" }}>
      {rows.map((row, r) => {
        const frameTop = FIRST_FRAME_TOP + ROW_PITCH * r;
        return (
          <React.Fragment key={r}>
            <div
              style={{
                position: "absolute",
                left: titleCX[r],
                top: frameTop - 24.7,
                fontFamily: FONT,
                fontSize: 18.5,
                lineHeight: "18px",
                color: "#111",
                whiteSpace: "nowrap",
                transform: "translateX(-50%) scaleX(1.11)",
                transformOrigin: "center",
              }}
            >
              {titles[r]}
            </div>
            {row.map((p, s) => (
              <PanelChart
                key={s}
                p={p}
                left={SIDES[s].left}
                top={frameTop - PAD_TOP}
                width={SIDES[s].width}
                padRight={SIDES[s].padRight}
              />
            ))}
          </React.Fragment>
        );
      })}
    </div>
  );
}
